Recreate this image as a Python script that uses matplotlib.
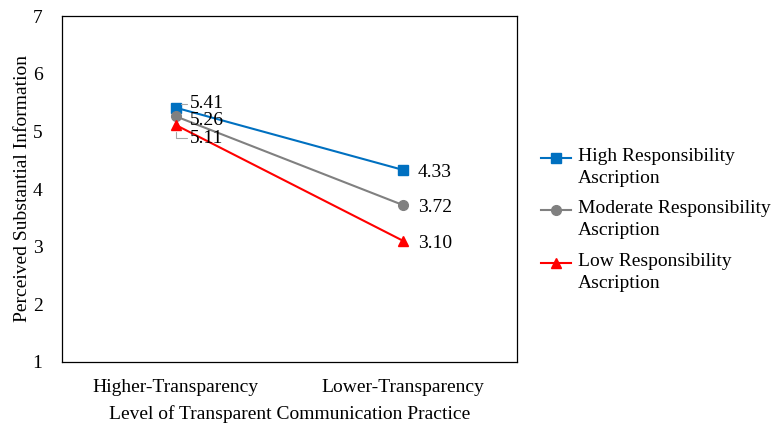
import matplotlib
matplotlib.use("Agg")
import matplotlib.pyplot as plt
from matplotlib.lines import Line2D

categories = ["Higher-Transparency", "Lower-Transparency"]
high = [5.41, 4.33]
moderate = [5.26, 3.72]
low = [5.11, 3.10]
series_names = ["High Responsibility\nAscription", "Moderate Responsibility\nAscription", "Low Responsibility\nAscription"]

plt.rcParams['font.family'] = ['Liberation Serif', 'DejaVu Serif']
FS = 14

W, H = 771, 425
fig = plt.figure(figsize=(W / 100, H / 100), dpi=100)
ax = fig.add_axes([62 / W, 1 - 362 / H, 455 / W, 346 / H])

x = [0, 1]
colors = ["#0070C0", "#808080", "#FF0000"]
markers = ["s", "o", "^"]
data = [high, moderate, low]
for vals, c, m, name in zip(data, colors, markers, series_names):
    ax.plot(x, vals, color=c, marker=m, markersize=7, linewidth=1.5, label=name)

ax.set_xlim(-0.5, 1.5)
ax.set_ylim(1, 7)
ax.set_xticks(x)
ax.set_xticklabels(categories, fontsize=FS)
ax.set_yticks(range(1, 8))
ax.tick_params(axis='both', length=0, labelsize=FS)
ax.tick_params(axis='y', pad=14)
ax.tick_params(axis='x', pad=12)
for s in ax.spines.values():
    s.set_color("#000000")
    s.set_linewidth(0.9)

ax.set_ylabel("Perceived Substantial Information", fontsize=FS, labelpad=1)
ax.set_xlabel("Level of Transparent Communication Practice", fontsize=FS, labelpad=7)

# labels at first category with leader lines
offsets_first = [(10, 3), (10, -3), (10, -9.5)]
conns = ["angle,angleA=0,angleB=90,rad=0", None, "angle,angleA=0,angleB=90,rad=0"]
for vals, off, cs in zip(data, offsets_first, conns):
    kw = {}
    if cs is not None:
        kw["arrowprops"] = dict(arrowstyle="-", color="#A6A6A6", lw=0.8,
                                connectionstyle=cs, shrinkA=0, shrinkB=5)
    ax.annotate(f"{vals[0]:.2f}", xy=(0, vals[0]), xytext=off, textcoords="offset points",
                fontsize=FS, va="center", ha="left", **kw)
for vals in data:
    ax.annotate(f"{vals[1]:.2f}", xy=(1, vals[1]), xytext=(10.5, -2), textcoords="offset points",
                fontsize=FS, va="center", ha="left")

# manual legend
leg_y = [158, 210, 263]
for ly, c, m, name in zip(leg_y, colors, markers, series_names):
    yf = 1 - ly / H
    fig.add_artist(Line2D([541 / W, 571 / W], [yf, yf], color=c, lw=1.5, transform=fig.transFigure))
    fig.add_artist(Line2D([556 / W], [yf], color=c, marker=m, markersize=7, transform=fig.transFigure))
    fig.text(578 / W, 1 - (ly - 10) / H, name, fontsize=FS, va="top", ha="left", linespacing=1.35)

fig.savefig("out.png", dpi=100)
